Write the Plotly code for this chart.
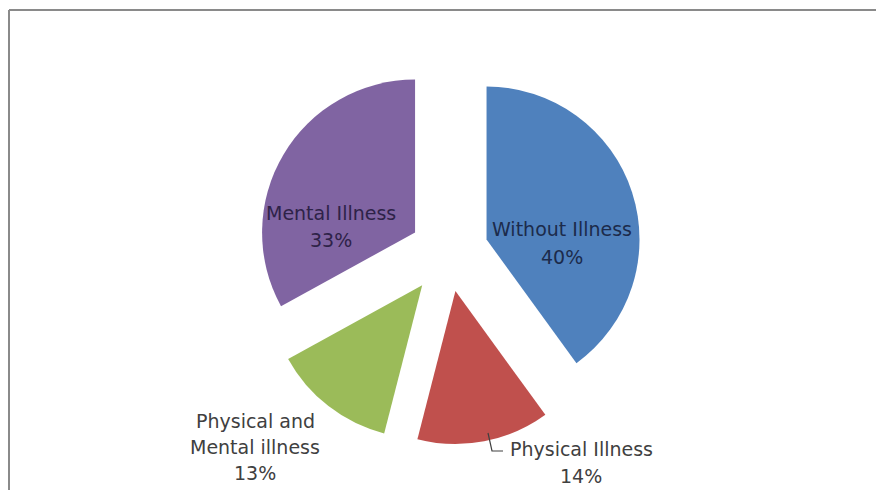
import plotly.graph_objects as go

# ---- data ----
categories = ["Without Illness", "Physical Illness", "Physical and Mental illness", "Mental Illness"]
label_lines = [["Without Illness"], ["Physical Illness"], ["Physical and", "Mental illness"], ["Mental Illness"]]
values = [40, 14, 13, 33]
colors = ["#4F81BD", "#C0504D", "#9BBB59", "#8064A2"]
pulls = [0.265, 0.26, 0.275, 0.25]

W, H = 876, 490
def px(x):
    return x / W
def py(y):
    return 1 - y / H

fig = go.Figure(go.Pie(
    labels=categories,
    values=values,
    sort=False,
    direction="clockwise",
    rotation=0,
    pull=pulls,
    marker=dict(colors=colors, line=dict(width=0)),
    textinfo="none",
    hoverinfo="label+percent",
    domain=dict(x=[0.2514, 0.7714], y=[0.0877, 0.8838]),
    showlegend=False,
))

# label placement (centre x, first line y, line spacing) and colours
label_pos = [(562, 229, 28), (581, 449, 27), (255, 421, 26), (331, 213, 27)]
label_colors = ["#1c2b4b", "#404040", "#404040", "#2e2248"]

annotations = []
for name_lines, v, (cx, y0, dy), col in zip(label_lines, values, label_pos, label_colors):
    lines = name_lines + [f"{v}%"]
    for k, t in enumerate(lines):
        annotations.append(dict(
            text=t, x=px(cx), y=py(y0 + k * dy), xref="paper", yref="paper",
            xanchor="center", yanchor="middle", showarrow=False,
            font=dict(family="DejaVu Sans", size=19, color=col),
        ))

border = dict(color="#8a8a8a", width=2)
shapes = [
    # chart border (only top and left edges visible in the crop)
    dict(type="line", xref="paper", yref="paper",
         x0=px(9), y0=py(10), x1=1.0, y1=py(10), line=border),
    dict(type="line", xref="paper", yref="paper",
         x0=px(9), y0=py(10), x1=px(9), y1=0.0, line=border),
    # leader line for Physical Illness
    dict(type="path", xref="paper", yref="paper",
         path=f"M {px(488)} {py(433)} L {px(492)} {py(451)} L {px(503)} {py(451)}",
         line=dict(color="#404040", width=1.2)),
]

fig.update_layout(
    width=W, height=H,
    margin=dict(l=0, r=0, t=0, b=0),
    paper_bgcolor="white", plot_bgcolor="white",
    annotations=annotations,
    shapes=shapes,
)

fig.write_html(
    "out.html",
    config={"displayModeBar": False},
    post_script="document.body.style.margin='0px';document.body.style.overflow='hidden';",
)
